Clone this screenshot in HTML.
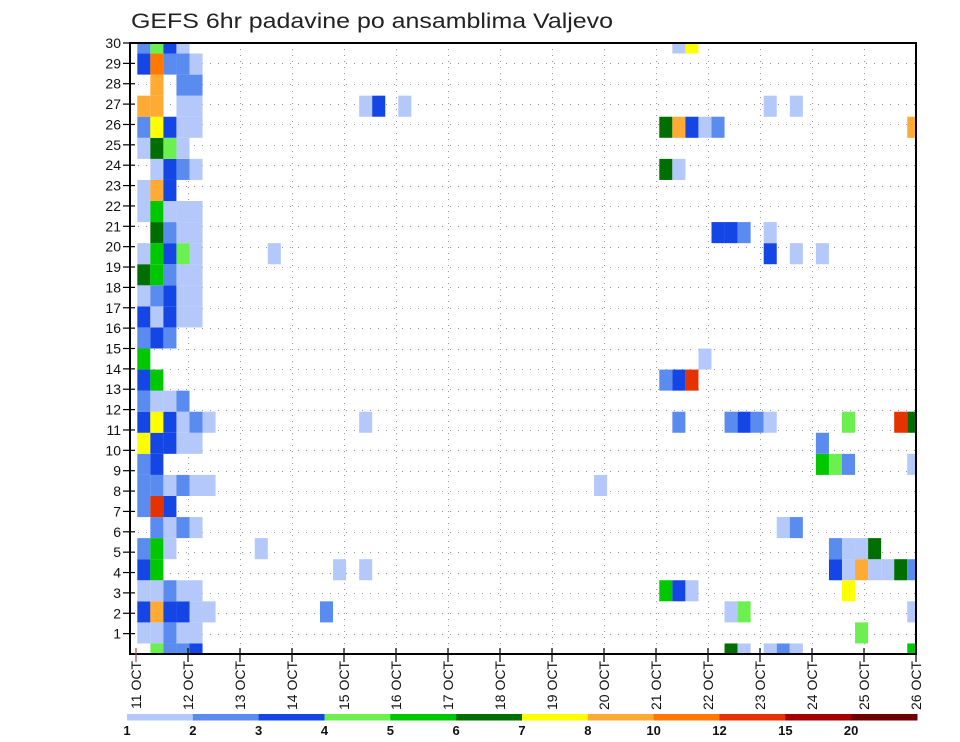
<!DOCTYPE html>
<html><head><meta charset="utf-8">
<style>
html,body{margin:0;padding:0;background:#fff;}
svg{display:block;font-family:"Liberation Sans",sans-serif;}
</style></head>
<body>
<svg id="chart" width="960" height="742" viewBox="0 0 960 742">
<text x="131" y="28" font-size="21" fill="#222" textLength="482" lengthAdjust="spacingAndGlyphs">GEFS 6hr padavine po ansamblima Valjevo</text>
</svg>
<script>
// ---- data ----
const dayLabels = ["11 OCT","12 OCT","13 OCT","14 OCT","15 OCT","16 OCT","17 OCT","18 OCT","19 OCT","20 OCT","21 OCT","22 OCT","23 OCT","24 OCT","25 OCT","26 OCT"];
const memberLabels = [1,2,3,4,5,6,7,8,9,10,11,12,13,14,15,16,17,18,19,20,21,22,23,24,25,26,27,28,29,30];
const binLabels = ["1","2","3","4","5","6","7","8","10","12","15","20"];
const binColors = ["#b4c8fa","#5a8cf0","#1446e6","#6cf050","#00c800","#006e00","#ffff00","#ffaa32","#ff7800","#e63200","#a50000","#6e0000"];
// per member row (index 0 = bottom), list of [6h-step column, colour bin 1..12]
const rowData = [
 [[1,4],[2,2],[3,2],[4,3],[45,6],[46,1],[48,1],[49,2],[50,1],[59,5]],
 [[0,1],[1,1],[2,2],[3,1],[4,1],[55,4]],
 [[0,3],[1,8],[2,3],[3,3],[4,1],[5,1],[14,2],[45,1],[46,4],[59,1]],
 [[0,1],[1,1],[2,2],[3,1],[4,1],[40,5],[41,3],[42,1],[54,7]],
 [[0,3],[1,5],[15,1],[17,1],[53,3],[54,1],[55,8],[56,1],[57,1],[58,6],[59,2]],
 [[0,2],[1,5],[2,1],[9,1],[53,2],[54,1],[55,1],[56,6]],
 [[1,2],[2,1],[3,2],[4,1],[49,1],[50,2]],
 [[0,2],[1,10],[2,3]],
 [[0,2],[1,2],[2,1],[3,2],[4,1],[5,1],[35,1]],
 [[0,2],[1,3],[52,5],[53,4],[54,2],[59,1]],
 [[0,7],[1,3],[2,3],[3,1],[4,1],[52,2]],
 [[0,3],[1,7],[2,3],[3,1],[4,2],[5,1],[17,1],[41,2],[45,2],[46,3],[47,2],[48,1],[54,4],[58,10],[59,6]],
 [[0,2],[1,1],[2,1],[3,2]],
 [[0,3],[1,5],[40,2],[41,3],[42,10]],
 [[0,5],[43,1]],
 [[0,2],[1,3],[2,2]],
 [[0,3],[1,1],[2,3],[3,1],[4,1]],
 [[0,1],[1,2],[2,3],[3,1],[4,1]],
 [[0,6],[1,5],[2,2],[3,1],[4,1]],
 [[0,1],[1,5],[2,3],[3,4],[4,1],[10,1],[48,3],[50,1],[52,1]],
 [[1,6],[2,2],[3,1],[4,1],[44,3],[45,3],[46,2],[48,1]],
 [[0,1],[1,5],[2,1],[3,1],[4,1]],
 [[0,1],[1,8],[2,3]],
 [[1,1],[2,3],[3,2],[4,1],[40,6],[41,1]],
 [[0,1],[1,6],[2,4],[3,1]],
 [[0,2],[1,7],[2,3],[3,1],[4,1],[40,6],[41,8],[42,3],[43,1],[44,2],[59,8]],
 [[0,8],[1,8],[3,1],[4,1],[17,1],[18,3],[20,1],[48,1],[50,1]],
 [[1,8],[3,2],[4,2]],
 [[0,3],[1,9],[2,2],[3,2],[4,1]],
 [[0,2],[1,4],[2,3],[3,1],[41,1],[42,7]]
];

// ---- layout ----
const NS = "http://www.w3.org/2000/svg";
const svg = document.getElementById("chart");
const L = 130, R = 916, T = 43, B = 654;
const day0X = 136, dayW = 52;
const colX = c => 137.3 + c * 13.05;
const colW = 13.05;
const nRows = rowData.length;
const rowH = (B - T) / (nRows - 1);
const rowY = k => B - k * rowH;
const tickY = v => B - v * (B - T) / 30;
const dayX = d => day0X + d * dayW;

function mk(tag, attrs, parent) {
  const e = document.createElementNS(NS, tag);
  for (const k in attrs) e.setAttribute(k, attrs[k]);
  (parent || svg).appendChild(e);
  return e;
}

const defs = mk("defs", {});
const cp = mk("clipPath", {id: "plotclip"}, defs);
mk("rect", {x: L, y: T, width: R - L, height: B - T}, cp);

const grid = mk("g", {stroke: "#9a9a9a", "stroke-width": 1, fill: "none"});


for (let j = 1; j < 30; j++) {
  const y = Math.round(tickY(j)) + 0.5;
  const ln = mk("line", {x1: L, x2: R, y1: y, y2: y, "stroke-dasharray": "1,7"}, grid);
  
  
}
for (let d = 1; d < dayLabels.length - 1; d++) {
  const x = Math.round(dayX(d)) + 0.5;
  const ln = mk("line", {x1: x, x2: x, y1: T, y2: B, "stroke-dasharray": "1,5"}, grid);
  
  
}

const cells = mk("g", {"clip-path": "url(#plotclip)"});


rowData.forEach((row, k) => {
  row.forEach(([c, b]) => {
    const r = mk("rect", {
      x: colX(c), y: rowY(k) - rowH / 2, width: colW, height: rowH,
      fill: binColors[b - 1]
    }, cells);
    
    
  });
});

const frame = mk("rect", {x: L, y: T, width: R - L, height: B - T, fill: "none", stroke: "#000", "stroke-width": 2});



const yax = mk("g", {});


memberLabels.forEach(v => {
  const y = tickY(v);
  const t = mk("line", {x1: L - 7, x2: L + 5, y1: y, y2: y, stroke: "#000", "stroke-width": 1.2}, yax);
  
  
  const tx = mk("text", {x: L - 9, y: y + 5, "font-size": 14, "text-anchor": "end", fill: "#111"}, yax);
  tx.textContent = v;
  
  
});

const xax = mk("g", {});


dayLabels.forEach((lab, d) => {
  const x = dayX(d);
  const t = mk("line", {x1: x, x2: x, y1: B - 6, y2: B + 8, stroke: d === 0 ? "#b44" : "#000", "stroke-width": 1.2}, xax);
  
  
  const tx = mk("text", {x: 0, y: 0, "font-size": 14, "text-anchor": "end", fill: "#111",
    transform: "translate(" + (x + 5) + "," + (B + 7) + ") rotate(-90)"}, xax);
  tx.textContent = lab;
  
  
});

const cb = mk("g", {});


const cbL = 127, cbR = 917, cbW = (cbR - cbL) / binColors.length;
binColors.forEach((col, i) => {
  const r = mk("rect", {x: cbL + i * cbW, y: 714, width: cbW + 0.5, height: 6.5, fill: col}, cb);
  
  
});
binLabels.forEach((lab, i) => {
  const tx = mk("text", {x: cbL + i * cbW, y: 735, "font-size": 13, "text-anchor": "middle", fill: "#111", "font-weight": "bold"}, cb);
  tx.textContent = lab;
  
  
});
</script>
</body></html>
